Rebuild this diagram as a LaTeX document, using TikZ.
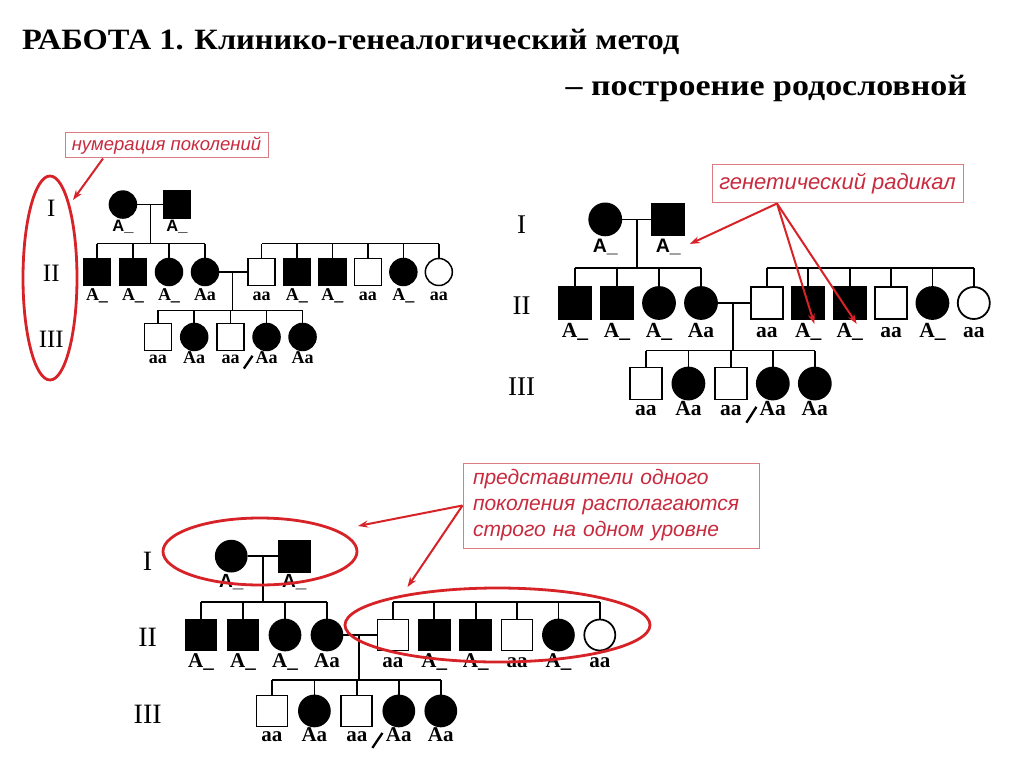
\documentclass[tikz,border=0pt]{standalone}
\usepackage{fontspec}
\setmainfont{Liberation Serif}
\newfontfamily\annfont{Liberation Sans}
\usetikzlibrary{shapes.geometric,arrows.meta}
\definecolor{anntext}{RGB}{200,42,62}
\definecolor{annbox}{RGB}{218,125,130}
\definecolor{annred}{RGB}{215,35,40}
\tikzset{
  pline/.style={line width=\plw pt, black},
  sym/.style={minimum size=\symsz pt, inner sep=0pt, line width=\plw pt, draw=black},
  fsq/.style={sym, rectangle, fill=black},
  osq/.style={sym, rectangle, fill=white},
  fci/.style={sym, circle, fill=black},
  oci/.style={sym, circle, fill=white},
  lbl/.style={font=\bfseries\fontsize{\lblfs}{\lblfs}\selectfont, inner sep=0pt, anchor=mid},
  glbl/.style={font=\annfont\bfseries\fontsize{\gifs}{\gifs}\selectfont, inner sep=0pt, anchor=mid},
  roman/.style={font=\fontsize{\romfs}{\romfs}\selectfont, inner sep=0pt},
  proband/.style={line width=2.3pt, black, line cap=butt},
  annbox/.style={draw=annbox, line width=1pt, text=anntext, inner sep=0pt},
  annarrow/.style={draw=annred, line width=2pt, -{Stealth[length=10pt,width=7pt]}},
  annoval/.style={draw=annred, line width=2.8pt, ellipse, inner sep=0pt},
  titlefont/.style={font=\bfseries\fontsize{29.5}{30}\selectfont, inner sep=0pt},
}
% #1 prefix, #2 x0, #3 y0, #4 xunit, #5 yunit, #6 symbol size, #7 label size, #8 gen I label size, #9 roman size
\newcommand\pedigree[9]{%
\begin{scope}[shift={(#2,#3)},x=#4pt,y=-#5pt]
\def\symsz{#6}\def\lblfs{#7}\def\gifs{#8}\def\romfs{#9}%
\pgfmathsetmacro\plw{#6/18}%
% generation numbers
\node[roman] (#1-R1) at (-1.27,-1.78) {I};
\node[roman] (#1-R2) at (-1.27,0.05) {II};
\node[roman] (#1-R3) at (-1.27,1.9) {III};
% generation I
\node[fci] (#1-i1) at (0.72,-1.9) {};
\node[fsq] (#1-i2) at (2.22,-1.9) {};
\node[glbl] (#1-li1) at (0.72,-1.2) {A\_};
\node[glbl] (#1-li2) at (2.22,-1.2) {A\_};
\draw[pline] (#1-i1) -- (#1-i2);
\coordinate (#1-m1) at (1.48,-1.9);
\coordinate (#1-b1) at (1.48,-0.8);
\draw[pline] (#1-m1) -- (#1-b1);
% generation II, left sibship
\foreach \k/\xx/\ty/\lb in {1/0/fsq/A\_,2/1/fsq/A\_,3/2/fci/A\_,4/3/fci/Aa}{
  \node[\ty] (#1-a\k) at (\xx,0) {};
  \node[lbl] (#1-la\k) at (\xx,0.73) {\lb};
  \draw[pline] (#1-a\k.north) -- (#1-a\k.north |- #1-b1);
}
\draw[pline] (#1-a1.north |- #1-b1) -- (#1-a4.north |- #1-b1);
% generation II, right sibship
\foreach \k/\xx/\ty/\lb in {1/4.57/osq/aa,2/5.555/fsq/A\_,3/6.54/fsq/A\_,4/7.525/osq/aa,5/8.51/fci/A\_,6/9.495/oci/aa}{
  \node[\ty] (#1-r\k) at (\xx,0) {};
  \node[lbl] (#1-lr\k) at (\xx,0.73) {\lb};
  \draw[pline] (#1-r\k.north) -- (#1-r\k.north |- #1-b1);
}
\draw[pline] (#1-r1.north |- #1-b1) -- (#1-r6.north |- #1-b1);
% marriage II
\draw[pline] (#1-a4) -- (#1-r1);
\coordinate (#1-m2) at (3.77,0);
\coordinate (#1-b3) at (3.77,1.08);
\draw[pline] (#1-m2) -- (#1-b3);
% generation III
\foreach \k/\xx/\ty/\lb in {1/1.69/osq/aa,2/2.7/fci/Aa,3/3.71/osq/aa,4/4.71/fci/Aa,5/5.71/fci/Aa}{
  \node[\ty] (#1-c\k) at (\xx,1.83) {};
  \node[lbl] (#1-lc\k) at (\xx,2.5) {\lb};
  \draw[pline] (#1-c\k.north) -- (#1-c\k.north |- #1-b3);
}
\draw[pline] (#1-c1.north |- #1-b3) -- (#1-c5.north |- #1-b3);
% proband
\coordinate (#1-p0) at (4.08,2.72);
\coordinate (#1-p1) at (4.32,2.36);
\draw[proband] (#1-p0) -- (#1-p1);
\end{scope}}
\begin{document}
\begin{tikzpicture}[x=1pt,y=-1pt]
\useasboundingbox (0,0) rectangle (1024,767);
\fill[white] (0,0) rectangle (1024,767);
% title
\node[titlefont, anchor=base west] (t1) at (22,50) {\scalebox{1.1}[1]{РАБОТА 1. Клинико-генеалогический метод}};
\node[titlefont, anchor=base east] (t2) at (967,96) {\scalebox{1.15}[1]{– построение родословной}};
% pedigrees
\pedigree{tl}{97}{272}{36}{35.5}{27}{18}{16.5}{25}
\pedigree{tr}{575}{303}{42}{44}{32}{21.5}{19.5}{27}
\pedigree{bt}{201}{635}{42}{41.5}{31}{21}{19}{28}
% annotation: top left
\node[annbox, minimum width=203pt, minimum height=25pt, font=\annfont\itshape\fontsize{18.5}{20}\selectfont] (n1) at (166.5,145.5) {нумерация поколений};
\node[annoval, minimum width=54pt, minimum height=204pt] (ov1) at (50,278) {};
\draw[annarrow] ([xshift=-63.5pt]n1.south) -- ([shift={(23,-78)}]ov1.center);
% annotation: top right
\node[annbox, minimum width=251pt, minimum height=38pt, font=\annfont\itshape\fontsize{22}{24}\selectfont] (n2) at (837.5,184) {генетический радикал};
\coordinate (n2s) at ([xshift=-60.5pt]n2.south);
\draw[annarrow] (n2s) -- ([shift={(9,-3)}]tr-li2.east);
\draw[annarrow] (n2s) -- ([shift={(6,4)}]tr-r2.south);
\draw[annarrow] (n2s) -- ([shift={(7,4)}]tr-r3.south);
% annotation: bottom
\node[annbox, text width=276pt, align=left, inner xsep=10pt, minimum height=85pt, font=\annfont\itshape\fontsize{21}{26}\selectfont] (n3) at (611,505.5) {представители одного\\поколения располагаются\\строго на одном уровне};
\node[annoval, minimum width=194pt, minimum height=67pt] (el1) at (260,551.5) {};
\node[annoval, minimum width=305pt, minimum height=74pt] (el2) at (497.5,625) {};
\draw[annarrow] (n3.west) -- ([shift={(98,-25.5)}]el1.center);
\draw[annarrow] (n3.west) -- ([shift={(-90,-38)}]el2.center);
\end{tikzpicture}
\end{document}
